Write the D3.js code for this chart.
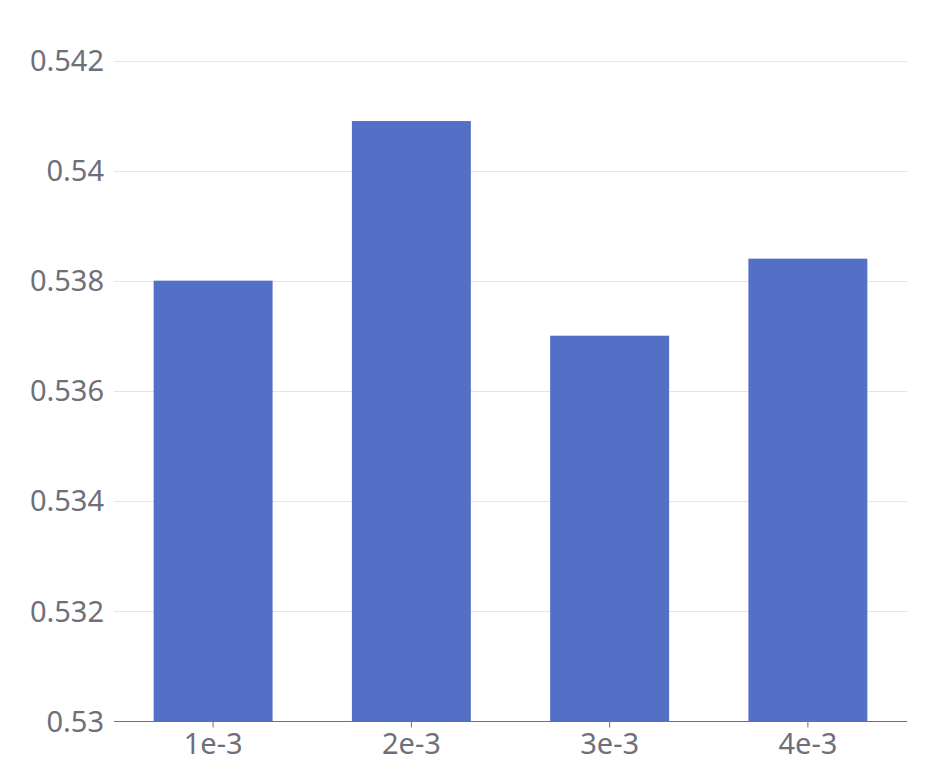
<!DOCTYPE html>
<html><head><meta charset="utf-8">
<script src="https://cdn.jsdelivr.net/npm/d3@7"></script>
<style>body{margin:0;background:#fff}svg{display:block}</style>
</head><body>
<script>
const categories = ["1e-3", "2e-3", "3e-3", "4e-3"];
const values = [0.538, 0.5409, 0.537, 0.5384];
const yTicks = [0.53, 0.532, 0.534, 0.536, 0.538, 0.54, 0.542];

const W = 945, H = 783;
const m = {left: 114, right: 38, top: 60.5, bottom: 62};
const svg = d3.select("body").append("svg").attr("width", W).attr("height", H);
const font = "'Noto Sans', 'Open Sans', sans-serif";

const x = d3.scaleBand().domain(categories).range([m.left, W - m.right]).padding(0);
const y = d3.scaleLinear().domain([0.53, 0.542]).range([H - m.bottom, m.top]);

// gridlines
svg.append("g").selectAll("line").data(yTicks.slice(1)).join("line")
  .attr("x1", m.left).attr("x2", W - m.right)
  .attr("y1", d => Math.round(y(d)) + 0.5).attr("y2", d => Math.round(y(d)) + 0.5)
  .attr("stroke", "#E0E6F1").attr("stroke-width", 1);

// bars
const bw = x.bandwidth() * 0.6;
svg.append("g").selectAll("rect").data(categories).join("rect")
  .attr("x", d => x(d) + (x.bandwidth() - bw) / 2)
  .attr("width", bw)
  .attr("y", (d, i) => y(values[i]))
  .attr("height", (d, i) => y(0.53) - y(values[i]))
  .attr("fill", "#5470C6");

// y axis labels
const yAxis = d3.axisLeft(y).tickValues(yTicks).tickFormat(d => d3.format("")(+d.toFixed(3))).tickSize(0).tickPadding(10);
const gy = svg.append("g").attr("transform", `translate(${m.left},0)`).call(yAxis);
gy.select(".domain").remove();
gy.selectAll("text").attr("font-family", font).attr("font-size", 29).attr("fill", "#6E7079").attr("dy", "0.35em");

// x axis
const xAxis = d3.axisBottom(x).tickSize(6).tickPadding(6).tickSizeOuter(0);
const gx = svg.append("g").attr("transform", `translate(0,${Math.round(y(0.53)) + 0.5})`).call(xAxis);
gx.select(".domain").attr("stroke", "#6E7079").attr("d", `M${m.left},0H${W - m.right}`);
gx.selectAll(".tick line").attr("stroke", "#6E7079");
gx.selectAll("text").attr("font-family", font).attr("font-size", 29).attr("fill", "#6E7079").attr("dy", "0.71em");
</script>
</body></html>
